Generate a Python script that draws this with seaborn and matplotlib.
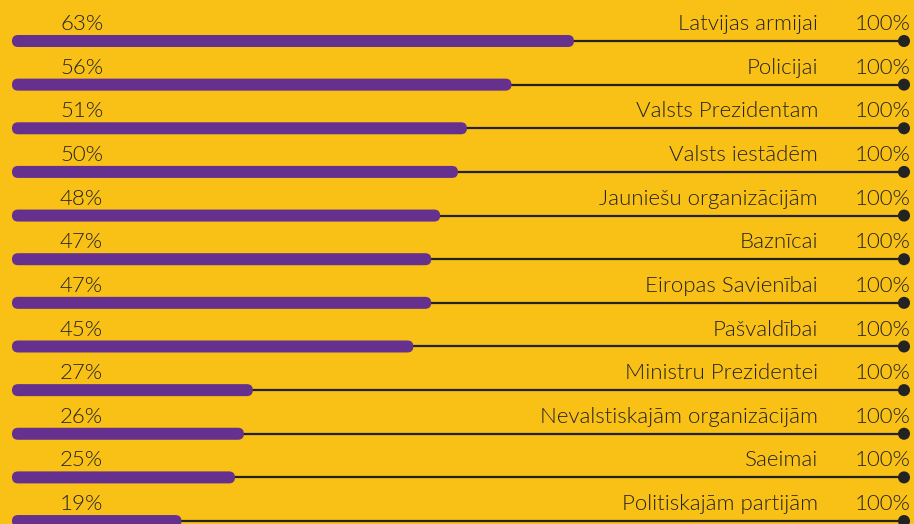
import seaborn as sns
import numpy as np
import pandas as pd
import matplotlib.pyplot as plt
from matplotlib.patches import FancyBboxPatch

# data
institutions = ['Latvijas armijai', 'Policijai', 'Valsts Prezidentam', 'Valsts iestādēm',
                'Jauniešu organizācijām', 'Baznīcai', 'Eiropas Savienībai', 'Pašvaldībai',
                'Ministru Prezidentei', 'Nevalstiskajām organizācijām', 'Saeimai',
                'Politiskajām partijām']
trust = [63, 56, 51, 50, 48, 47, 47, 45, 27, 26, 25, 19]
full = [100] * len(trust)

bg = '#F9C016'
purple = '#66308F'
dark = '#232323'

df = pd.DataFrame({'inst': institutions, 'trust': trust, 'full': full})
df['pos'] = np.arange(len(df))

W, H = 914, 524
px_x = 8.92            # pixels per percent
x0 = 12                # pixel where 0% starts
row_px = 43.64         # pixels per row
y0 = 41                # pixel of first row centre

fig = plt.figure(figsize=(W / 100, H / 100), dpi=100, facecolor=bg)
ax = fig.add_axes([0, 0, 1, 1])
ax.set_facecolor(bg)

# guide lines up to 100%
ax.hlines(df['pos'], 0, df['full'], color=dark, lw=1.6, zorder=1)
sns.scatterplot(data=df, x='full', y='pos', color=dark, s=75, edgecolor='none',
                zorder=2, ax=ax, legend=False)

# purple bars, rounded ends
bar_h = 12 / row_px
sns.barplot(data=df, x='trust', y='pos', orient='h', color=purple, width=bar_h,
            saturation=1, native_scale=True, ax=ax, zorder=3)
r_x = 6 / px_x
r_y = 6 / row_px
for p in list(ax.patches):
    x, y, w, h = p.get_x(), p.get_y(), p.get_width(), p.get_height()
    p.remove()
    ax.add_patch(FancyBboxPatch((x, y), w, h,
                                boxstyle=f'round,pad=0,rounding_size={r_x}',
                                mutation_aspect=r_y / r_x,
                                fc=purple, ec='none', zorder=3))

ax.set_xlim(-x0 / px_x, (W - x0) / px_x)
ax.set_ylim((H - y0) / row_px, -y0 / row_px)

font = dict(family=['Lato', 'DejaVu Sans'], fontsize=16, color=dark, weight=300)
for i, row in df.iterrows():
    yb = row['pos'] - 0.25
    ax.text((60 - x0) / px_x, yb, f"{row['trust']}%", ha='left', va='baseline', **font)
    ax.text((818 - x0) / px_x, yb, row['inst'], ha='right', va='baseline', **font)
    ax.text((911 - x0) / px_x, yb, f"{row['full']}%", ha='right', va='baseline', **font)

ax.axis('off')
fig.savefig('out.png', dpi=100, facecolor=bg)
